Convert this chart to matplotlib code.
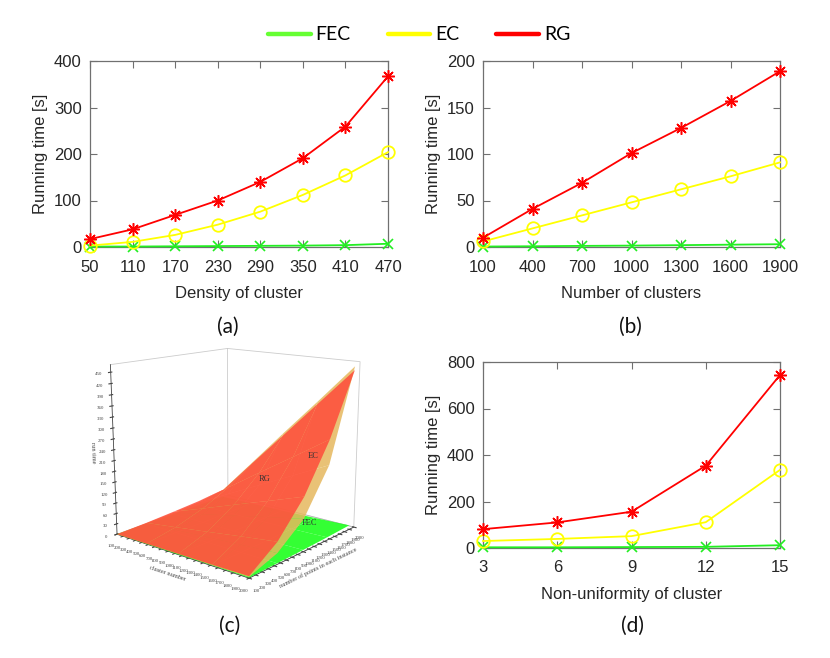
import numpy as np
import matplotlib
matplotlib.use("Agg")
import matplotlib.pyplot as plt
from matplotlib.lines import Line2D

# ---------------- data ----------------
series = ["FEC", "EC", "RG"]

density = [50, 110, 170, 230, 290, 350, 410, 470]
a_fec = [1, 1, 1.5, 2, 2.5, 3, 4, 7]
a_ec = [3, 11, 26, 48, 76, 112, 154, 204]
a_rg = [17, 38, 69, 100, 140, 191, 259, 367]

nclusters = [100, 400, 700, 1000, 1300, 1600, 1900]
b_fec = [0.5, 0.8, 1.2, 1.5, 2, 2.5, 3]
b_ec = [6, 20, 34, 48, 62, 76, 91]
b_rg = [10, 41, 69, 101, 128, 157, 189]

nonuni = [3, 6, 9, 12, 15]
d_fec = [3, 3, 4, 5, 12]
d_ec = [30, 39, 51, 111, 336]
d_rg = [81, 110, 156, 354, 744]

# 3D panel (c): cluster number x number of points in each instance
c_cluster = [100, 575, 1050, 1525, 2000]
c_points = [100, 550, 1000, 1450, 1900]
c_rg = [[0, 3, 8, 14, 22],
        [1, 17, 43, 80, 130],
        [2, 31, 79, 147, 236],
        [3, 46, 114, 213, 343],
        [5, 60, 150, 280, 450]]
c_ec = [[0, 2, 5, 10, 23],
        [1, 9, 26, 60, 132],
        [2, 16, 47, 110, 242],
        [2, 23, 69, 160, 350],
        [3, 30, 90, 210, 460]]
c_fec = [[0, 0, 0, 1, 1],
         [0, 1, 1, 2, 3],
         [0, 1, 2, 3, 5],
         [1, 2, 3, 5, 8],
         [1, 3, 5, 8, 12]]
c_zticks = list(range(0, 451, 30))
c_xticks = list(range(100, 2001, 100))
c_yticks = list(range(100, 2001, 100))

# ---------------- style ----------------
W, H = 830, 658
col_fec, col_ec, col_rg = "#22ee22", "#ffff00", "#ff0000"
leg_cols = ["#66ff33", "#ffff00", "#ff0000"]
txt = "#262626"
frame = "#707070"
tick_font = "Liberation Sans"
cap_font = "Lato"

fig = plt.figure(figsize=(W / 100, H / 100), dpi=100)


def px_rect(l, t, r, b):
    return [l / W, 1 - b / H, (r - l) / W, (b - t) / H]


def style_2d(ax, x, xt, ylim, yt, xlabel):
    ax.set_xlim(x[0], x[-1])
    ax.set_xticks(xt)
    ax.set_ylim(*ylim)
    ax.set_yticks(yt)
    ax.tick_params(direction="in", top=True, right=True, length=5, width=0.8,
                   colors=frame, labelcolor=txt, labelsize=12)
    ax.tick_params(axis="x", pad=9)
    ax.tick_params(axis="y", pad=6)
    for lab in ax.get_xticklabels() + ax.get_yticklabels():
        lab.set_family(tick_font)
    for s in ax.spines.values():
        s.set_color(frame)
        s.set_linewidth(0.9)
    ax.set_xlabel(xlabel, fontsize=12, family=tick_font, color=txt, labelpad=8)
    ax.set_ylabel("Running time [s]", fontsize=12, family=tick_font, color=txt, labelpad=4)


def draw_lines(ax, x, fec, ec, rg):
    ax.plot(x, fec, color=col_fec, lw=1.3, marker="x", ms=7, mew=1.2, clip_on=False, zorder=3)
    ax.plot(x, ec, color=col_ec, lw=1.3, marker="o", ms=9, mfc="none", mew=1.3, clip_on=False, zorder=3)
    ax.plot(x, rg, color=col_rg, lw=1.3, marker=(8, 2, 0), ms=9, mew=1.1, clip_on=False, zorder=4)


# (a)
ax_a = fig.add_axes(px_rect(90, 61, 388, 247))
draw_lines(ax_a, density, a_fec, a_ec, a_rg)
style_2d(ax_a, density, density, (0, 400), [0, 100, 200, 300, 400], "Density of cluster")

# (b)
ax_b = fig.add_axes(px_rect(483, 61, 780, 247))
draw_lines(ax_b, nclusters, b_fec, b_ec, b_rg)
style_2d(ax_b, nclusters, nclusters, (0, 200), [0, 50, 100, 150, 200], "Number of clusters")

# (d)
ax_d = fig.add_axes(px_rect(483, 362, 780, 548))
draw_lines(ax_d, nonuni, d_fec, d_ec, d_rg)
style_2d(ax_d, nonuni, nonuni, (0, 800), [0, 200, 400, 600, 800], "Non-uniformity of cluster")

# (c) 3D
ax_c = fig.add_axes(px_rect(53, 308, 413, 598), projection="3d")
Xg, Yg = np.meshgrid(c_cluster, c_points, indexing="ij")
ax_c.plot_surface(Xg, Yg, np.array(c_fec, float), color="#22ff22", alpha=0.92,
                  shade=False, linewidth=0, antialiased=True)
ax_c.plot_surface(Xg, Yg, np.array(c_ec, float), color="#e6b85e", alpha=0.85,
                  shade=False, linewidth=0, antialiased=True)
ax_c.plot_surface(Xg, Yg, np.array(c_rg, float), color="#ff4c3a", alpha=0.85,
                  shade=False, linewidth=0, antialiased=True)
ax_c.set_proj_type("persp", focal_length=0.5)
ax_c.view_init(elev=14, azim=-50)
ax_c.set_box_aspect((1, 1, 1.0), zoom=1.0)
ax_c.set_xlim(100, 2000)
ax_c.set_ylim(100, 2000)
ax_c.set_zlim(0, 470)
ax_c.set_xticks(c_xticks)
ax_c.set_yticks(c_yticks)
ax_c.set_zticks(c_zticks)
ax_c.grid(False)
for axis in (ax_c.xaxis, ax_c.yaxis, ax_c.zaxis):
    axis.pane.fill = False
    axis.pane.set_edgecolor("#999999")
    axis.pane.set_linewidth(0.6)
    axis.line.set_color("#444444")
    axis.line.set_linewidth(0.6)
ax_c.zaxis.set_ticks_position("lower")
ax_c.zaxis.set_label_position("lower")
ax_c.tick_params(axis="both", labelsize=3.5, pad=-3, colors="#444444", width=0.4, length=2)
for lab in ax_c.get_xticklabels() + ax_c.get_yticklabels() + ax_c.get_zticklabels():
    lab.set_family("Liberation Serif")
ax_c.set_xlabel("cluster number", fontsize=4.5, family="Liberation Serif", color="#444444", labelpad=-12)
ax_c.set_ylabel("number of points in each instance", fontsize=4.5, family="Liberation Serif",
                color="#444444", labelpad=-12)
ax_c.set_zlabel("run time", fontsize=4.5, family="Liberation Serif", color="#444444", labelpad=-12)
fig.text(265 / W, 1 - 479 / H, "RG", fontsize=6, family="Liberation Serif", color="#333333",
         ha="center", va="center")
fig.text(313 / W, 1 - 456 / H, "EC", fontsize=6, family="Liberation Serif", color="#333333",
         ha="center", va="center")
fig.text(309 / W, 1 - 523 / H, "FEC", fontsize=6, family="Liberation Serif", color="#333333",
         ha="center", va="center")

# captions
for x, y, s in [(228, 327, "(a)"), (630, 327, "(b)"), (230, 626, "(c)"), (632, 626, "(d)")]:
    fig.text(x / W, 1 - y / H, s, fontsize=15, family=cap_font, color="#111111",
             ha="center", va="center")

# legend
handles = [Line2D([], [], color=c, lw=3.2, solid_capstyle="round") for c in leg_cols]
fig.legend(handles, series, loc="center", bbox_to_anchor=(0.505, 1 - 35 / H), ncol=3,
           frameon=False, prop={"family": cap_font, "size": 14}, handlelength=2.2,
           columnspacing=1.9, handletextpad=0.25)

fig.savefig("out.png", dpi=100)
